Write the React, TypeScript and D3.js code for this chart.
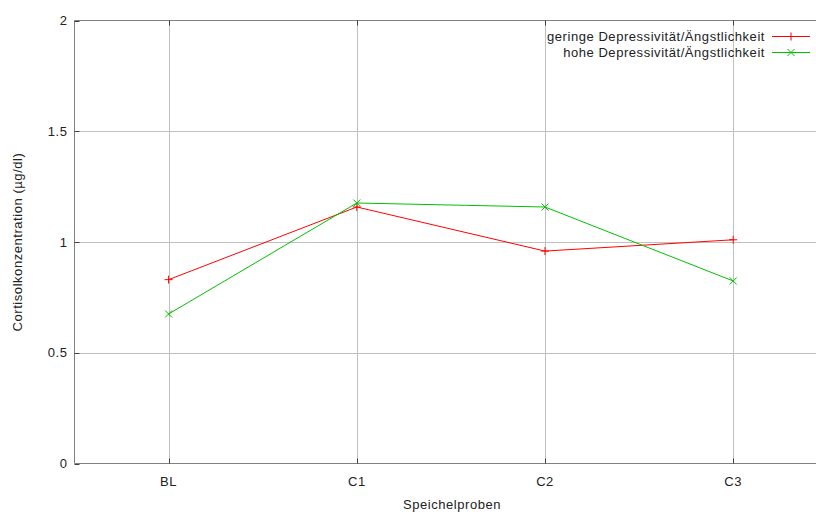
import React from "react";
import * as d3 from "d3";

const categories = ["BL", "C1", "C2", "C3"];
const lowValues = [0.83, 1.158, 0.959, 1.01];
const highValues = [0.675, 1.176, 1.158, 0.824];
const yTicks = [0, 0.5, 1, 1.5, 2];
const seriesNames = ["geringe Depressivität/Ängstlichkeit", "hohe Depressivität/Ängstlichkeit"];

const W = 816, H = 514;
const left = 74.5, top = 20.5, bottom = 463.5;
const font = "'Liberation Sans', Arial, sans-serif";
const fs = 13;
const ls = 0.55;

export default function App() {
  const x = d3.scaleLinear().domain([0.5, 4.44]).range([left, W]);
  const y = d3.scaleLinear().domain([0, 2]).range([bottom, top]);
  const line = d3.line<number>().x((_, i) => x(i + 1)).y((d) => y(d));
  const red = "#ff0000", green = "#00c000";
  const plus = (cx: number, cy: number, c: string, k: string) => (
    <path key={k} d={`M${cx - 4},${cy}H${cx + 4}M${cx},${cy - 4}V${cy + 4}`} stroke={c} strokeWidth={1} />
  );
  const cross = (cx: number, cy: number, c: string, k: string) => (
    <path key={k} d={`M${cx - 3.5},${cy - 3.5}L${cx + 3.5},${cy + 3.5}M${cx - 3.5},${cy + 3.5}L${cx + 3.5},${cy - 3.5}`} stroke={c} strokeWidth={1} />
  );
  const txt = { fontSize: fs, fill: "#222", letterSpacing: ls } as any;
  return (
    <svg width={W} height={H} style={{ position: "absolute", left: 0, top: 0 }} fontFamily={font}>
      <rect width={W} height={H} fill="#fff" />
      {yTicks.filter((t) => t > 0 && t < 2).map((t) => (
        <line key={"gy" + t} x1={left} x2={W} y1={Math.round(y(t)) + 0.5} y2={Math.round(y(t)) + 0.5} stroke="#c0c0c0" />
      ))}
      {categories.map((c, i) => (
        <line key={"gx" + c} x1={Math.round(x(i + 1)) + 0.5} x2={Math.round(x(i + 1)) + 0.5} y1={top} y2={bottom} stroke="#c0c0c0" />
      ))}
      <path d={`M${W},${top}H${left}V${bottom}H${W}`} fill="none" stroke="#808080" strokeWidth={1} />
      {categories.map((c, i) => (
        <g key={"t" + c}>
          <line x1={Math.round(x(i + 1)) + 0.5} x2={Math.round(x(i + 1)) + 0.5} y1={top} y2={top + 5} stroke="#404040" />
          <line x1={Math.round(x(i + 1)) + 0.5} x2={Math.round(x(i + 1)) + 0.5} y1={bottom} y2={bottom - 5} stroke="#404040" />
          <text x={x(i + 1)} y={bottom + 22} textAnchor="middle" {...txt}>{c}</text>
        </g>
      ))}
      {yTicks.map((t) => (
        <g key={"yt" + t}>
          <line x1={left} x2={left + 5} y1={Math.round(y(t)) + 0.5} y2={Math.round(y(t)) + 0.5} stroke="#404040" />
          <text x={left - 7} y={y(t) + 4.5} textAnchor="end" {...txt}>{t}</text>
        </g>
      ))}
      <text x={452} y={509} textAnchor="middle" {...txt}>Speichelproben</text>
      <text transform={`translate(22,${242}) rotate(-90)`} textAnchor="middle" {...txt}>Cortisolkonzentration (µg/dl)</text>
      <path d={line(lowValues) ?? ""} fill="none" stroke={red} strokeWidth={1} />
      <path d={line(highValues) ?? ""} fill="none" stroke={green} strokeWidth={1} />
      {lowValues.map((v, i) => plus(x(i + 1), y(v), red, "p" + i))}
      {highValues.map((v, i) => cross(x(i + 1), y(v), green, "c" + i))}
      <text x={765} y={40.5} textAnchor="end" {...txt}>{seriesNames[0]}</text>
      <text x={765} y={56.5} textAnchor="end" {...txt}>{seriesNames[1]}</text>
      <line x1={772} x2={810} y1={36.5} y2={36.5} stroke={red} />
      {plus(791, 36.5, red, "lp")}
      <line x1={772} x2={810} y1={52.5} y2={52.5} stroke={green} />
      {cross(791, 52.5, green, "lc")}
    </svg>
  );
}
